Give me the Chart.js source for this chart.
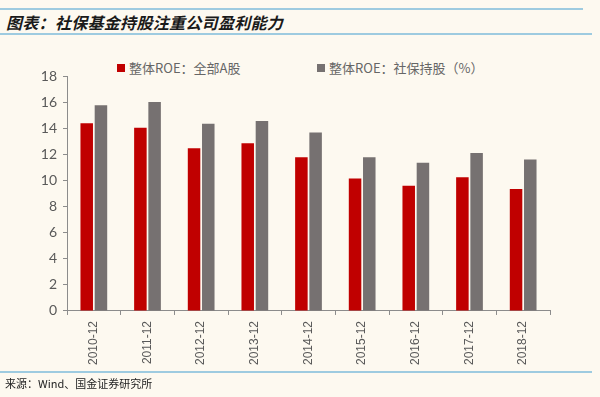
<!DOCTYPE html>
<html>
<head>
<meta charset="utf-8">
<script src="https://cdn.jsdelivr.net/npm/chart.js@4.4.1/dist/chart.umd.min.js"></script>
<style>
  body { margin: 0; background: #fdf9f0; }
  #wrap { position: relative; width: 600px; height: 397px; background: #fdf9f0; overflow: hidden; }
  .rule { position: absolute; left: 0; height: 2px; background: #9ecbe0; }
  #title { position: absolute; left: 6px; top: 10px; font: italic bold 16px "Noto Sans CJK SC"; color: #1a1a1a; letter-spacing: 0.3px; }
  #source { position: absolute; left: 5px; top: 375px; font: 11px "Noto Sans CJK SC"; color: #222; }
  #legend { position: absolute; top: 58px; left: 0; width: 600px; height: 20px; font: 13px "Noto Sans CJK SC"; color: #666; }
  .item { position: absolute; top: 0; white-space: nowrap; }
  .box { display: inline-block; width: 8px; height: 8px; margin-right: 4px; vertical-align: 1px; }
  #myChart { position: absolute; left: 0; top: 0; }
</style>
</head>
<body>
<div id="wrap">
  <div class="rule" style="top:8px; width:583px;"></div>
  <div class="rule" style="top:33px; width:592px;"></div>
  <div id="title">图表：社保基金持股注重公司盈利能力</div>
  <div id="legend"></div>
  <canvas id="myChart" width="600" height="397"></canvas>
  <div class="rule" style="top:371px; width:592px;"></div>
  <div id="source">来源：Wind、国金证券研究所</div>
</div>
<script>
const years = ['2010-12', '2011-12', '2012-12', '2013-12', '2014-12', '2015-12', '2016-12', '2017-12', '2018-12'];
const roeAll = [14.38, 14.03, 12.47, 12.85, 11.77, 10.14, 9.6, 10.24, 9.35]; //全部A股
const roeSocial = [15.76, 16.0, 14.35, 14.56, 13.67, 11.78, 11.35, 12.1, 11.6]; //社保持股
const seriesNames = ['整体ROE：全部A股', '整体ROE：社保持股（%）'];
const colors = ['#c00000', '#767171'];
const legendX = [117, 317];

// legend in html
const legend = document.getElementById('legend');
seriesNames.forEach((name, i) => {
  const el = document.createElement('div');
  el.className = 'item';
  el.style.left = legendX[i] + 'px';
  el.innerHTML = '<span class="box" style="background:' + colors[i] + '"></span>' + name;
  legend.appendChild(el);
});

const ctx = document.getElementById('myChart');

new Chart(ctx, {
  type: 'bar',
  data: {
    labels: years,
    datasets: [{
      label: seriesNames[0],
      data: roeAll,
      backgroundColor: colors[0],
      categoryPercentage: 0.53,
      barPercentage: 0.88
    }, {
      label: seriesNames[1],
      data: roeSocial,
      backgroundColor: colors[1],
      categoryPercentage: 0.53,
      barPercentage: 0.88
    }]
  },
  options: {
    responsive: false,
    animation: false,
    layout: { padding: { left: 0, right: 50, top: 76, bottom: 26 } },
    plugins: {
      legend: { display: false },
      tooltip: { enabled: false }
    },
    scales: {
      x: {
        grid: { display: true, drawOnChartArea: false, offset: true, tickLength: 4, color: '#8c8c8c' },
        border: { color: '#8c8c8c', width: 1 },
        ticks: {
          minRotation: 90, maxRotation: 90, padding: 6,
          color: '#595959', font: { family: 'Liberation Sans', size: 12 }
        }
      },
      y: {
        min: 0, max: 18,
        afterFit: scale => { scale.width = 67; },
        grid: { display: true, drawOnChartArea: false, tickLength: 4, color: '#8c8c8c' },
        border: { color: '#8c8c8c', width: 1 },
        ticks: {
          stepSize: 2, padding: 6,
          color: '#595959', font: { family: 'Lato', size: 14 }
        }
      }
    }
  }
});
</script>
</body>
</html>
